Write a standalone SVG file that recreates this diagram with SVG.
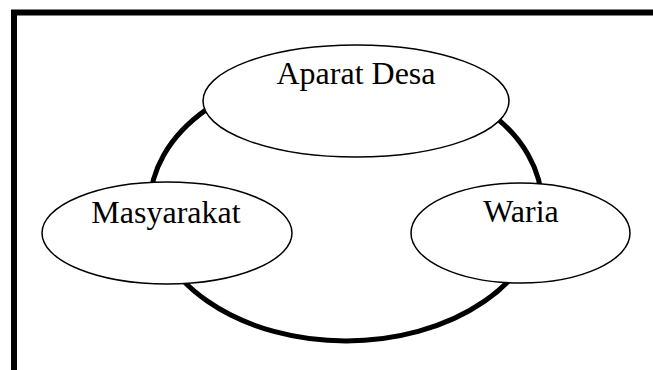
<svg xmlns="http://www.w3.org/2000/svg" width="653" height="370" viewBox="0 0 653 370">
<style>
.node{fill:#fff;stroke:#000;stroke-width:1.5}
.lbl{font-family:"Liberation Serif","Times New Roman",serif;font-size:32px;fill:#000;text-anchor:middle}
</style>
<rect width="653" height="370" fill="#fff"/>
<rect id="frame" x="14" y="12.5" width="700" height="420" fill="none" stroke="#000" stroke-width="6"/>
<g id="connectors">
<ellipse cx="346" cy="205" rx="196" ry="136" fill="none" stroke="#000" stroke-width="5"/>
</g>
<g id="aparat-desa">
<ellipse class="node" cx="356" cy="101" rx="153" ry="56"/>
<text class="lbl" x="356" y="84">Aparat Desa</text>
</g>
<g id="masyarakat">
<ellipse class="node" cx="167" cy="233" rx="125" ry="51"/>
<text class="lbl" x="166" y="223">Masyarakat</text>
</g>
<g id="waria">
<ellipse class="node" cx="520.5" cy="233" rx="109.5" ry="50"/>
<text class="lbl" x="521" y="222">Waria</text>
</g>
</svg>
